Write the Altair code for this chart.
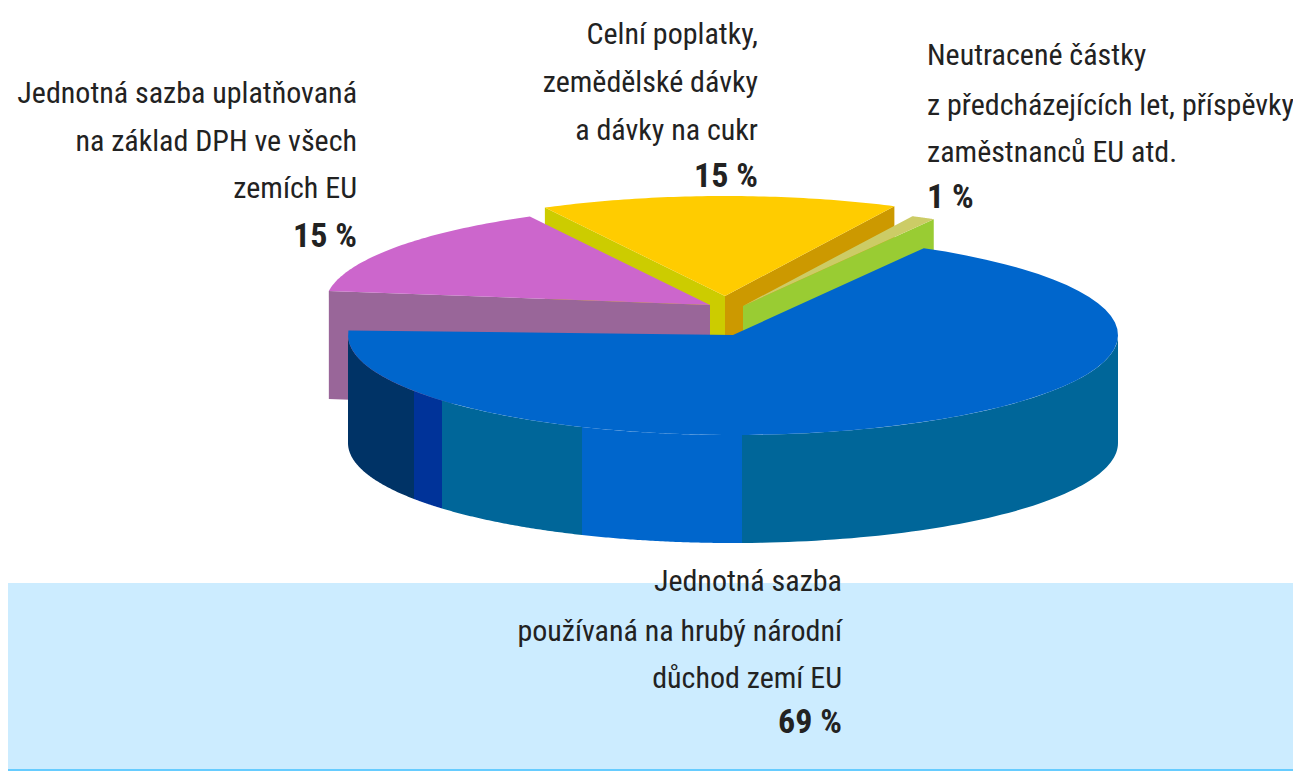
import math
import altair as alt
import pandas as pd

# Values
CATEGORIES = ["Celní poplatky", "Neutracené částky", "Hrubý národní důchod", "DPH"]
SHARES = [15, 1, 69, 15]
LABELS_CUSTOMS = ["Celní poplatky,", "zemědělské dávky", "a dávky na cukr"]
LABELS_OTHER = ["Neutracené částky", "z předcházejících let, příspěvky", "zaměstnanců EU atd."]
LABELS_GNI = ["Jednotná sazba", "používaná na hrubý národní", "důchod zemí EU"]
LABELS_VAT = ["Jednotná sazba uplatňovaná", "na základ DPH ve všech", "zemích EU"]
PERCENT_LABELS = ["15 %", "1 %", "69 %", "15 %"]

# Drawing parameters
W, H = 1285, 763
RX, RY, DEPTH = 385, 100, 108
START_T = 117.9
APEX = {"customs": (725, 296), "other": (743, 306), "gni": (733, 335), "vat": (710, 305)}
GNI_TILT = 5.5
BANDS_X = [348, 414, 442, 582, 742, 1118]
BANDS_COL = ["#003366", "#003399", "#006699", "#0066cc", "#006699"]
FONT = "Roboto Condensed, Liberation Sans Narrow, Arial Narrow, Lato"
FSIZE = 30
PSIZE = 34

xs = alt.Scale(domain=[8, 8 + W], range=[0, W], nice=False, zero=False)
ys = alt.Scale(domain=[8, 8 + H], range=[0, H], nice=False, zero=False)


def arc(apex, t0, t1, n=64, dy=0):
    a, b = apex
    return [(a + RX * math.cos(math.radians(t0 + (t1 - t0) * i / n)),
             b - RY * math.sin(math.radians(t0 + (t1 - t0) * i / n)) + dy) for i in range(n + 1)]


def poly(points, color):
    pts = list(points) + [points[0]]
    df = pd.DataFrame({"x": [p[0] for p in pts], "y": [p[1] for p in pts], "i": range(len(pts))})
    return alt.Chart(df).mark_line(filled=True, color=color, strokeWidth=0).encode(
        x=alt.X("x:Q", scale=xs, axis=None),
        y=alt.Y("y:Q", scale=ys, axis=None),
        order="i:Q",
    )


def wall(apex, t, color):
    p = arc(apex, t, t, n=1)[0]
    a = tuple(apex)
    return poly([a, p, (p[0], p[1] + DEPTH), (a[0], a[1] + DEPTH)], color)


def wedge(apex, t0, t1, color):
    return poly([tuple(apex)] + arc(apex, t0, t1), color)


# Boundaries (degrees on the ellipse) follow the shares, clockwise from START_T
deg = [s * 3.6 for s in SHARES]
t_a = START_T
t_b = t_a - deg[0]           # customs/other
t_c = t_b - deg[1]           # other/gni
t_d = t_c - deg[2]           # gni/vat

layers = []
# Background band and rule
band = pd.DataFrame({"x": [8], "x2": [8 + W], "y": [583], "y2": [769]})
layers.append(alt.Chart(band).mark_rect(color="#ccecff").encode(
    x=alt.X("x:Q", scale=xs, axis=None), x2="x2:Q",
    y=alt.Y("y:Q", scale=ys, axis=None), y2="y2:Q"))
rule = pd.DataFrame({"x": [8], "x2": [8 + W], "y": [769], "y2": [771]})
layers.append(alt.Chart(rule).mark_rect(color="#66ccff").encode(
    x=alt.X("x:Q", scale=xs, axis=None), x2="x2:Q",
    y=alt.Y("y:Q", scale=ys, axis=None), y2="y2:Q"))

# Customs slice
layers += [wall(APEX["customs"], t_a, "#cccc00"), wall(APEX["customs"], t_b, "#cc9900"),
           wedge(APEX["customs"], t_a, t_b, "#ffcc00")]
# Other slice
layers += [wall(APEX["other"], t_c, "#99cc33"), wedge(APEX["other"], t_b, t_c, "#cccc66")]
# VAT slice
layers += [wall(APEX["vat"], t_d + 360, "#996699"), wedge(APEX["vat"], START_T, t_d + 360, "#cc66cc")]

# GNI slice rim, banded
ax, ay = APEX["gni"]


def rim_t(x):
    u = max(-1.0, min(1.0, (x - ax) / RX))
    return -math.degrees(math.acos(u))


for x0, x1, col in zip(BANDS_X[:-1], BANDS_X[1:], BANDS_COL):
    t0, t1 = rim_t(x0), rim_t(x1)
    top = arc((ax, ay), t0, t1)
    bot = arc((ax, ay), t1, t0, dy=DEPTH)
    layers.append(poly(top + bot, col))
layers.append(wedge(APEX["gni"], t_c, t_d + GNI_TILT, "#0066cc"))

# Labels
rows = []
for lines, pct, anchor, align, baselines in [
    (LABELS_CUSTOMS, PERCENT_LABELS[0], 758, "right", [44, 92, 140, 187]),
    (LABELS_OTHER, PERCENT_LABELS[1], 927, "left", [65, 115, 162, 208]),
    (LABELS_GNI, PERCENT_LABELS[2], 842, "right", [591, 641, 688, 733]),
    (LABELS_VAT, PERCENT_LABELS[3], 357, "right", [103, 151, 198, 247]),
]:
    for txt, by in zip(lines, baselines[:3]):
        rows.append(dict(x=anchor, y=by, t=txt, align=align, w="normal", s=FSIZE))
    rows.append(dict(x=anchor, y=baselines[3], t=pct, align=align, w="bold", s=PSIZE))
labels = pd.DataFrame(rows)
for (al, w, s), g in labels.groupby(["align", "w", "s"]):
    layers.append(alt.Chart(g).mark_text(align=al, baseline="alphabetic", font=FONT, fontSize=int(s),
                                         fontWeight=w, color="#222222").encode(
        x=alt.X("x:Q", scale=xs, axis=None), y=alt.Y("y:Q", scale=ys, axis=None), text="t:N"))

chart = alt.layer(*layers).properties(
    width=W, height=H, padding=0, autosize=alt.AutoSizeParams(type="none"), background="white"
).configure_view(stroke=None)
chart.save("out.html", embed_options={"renderer": "svg", "actions": False})
